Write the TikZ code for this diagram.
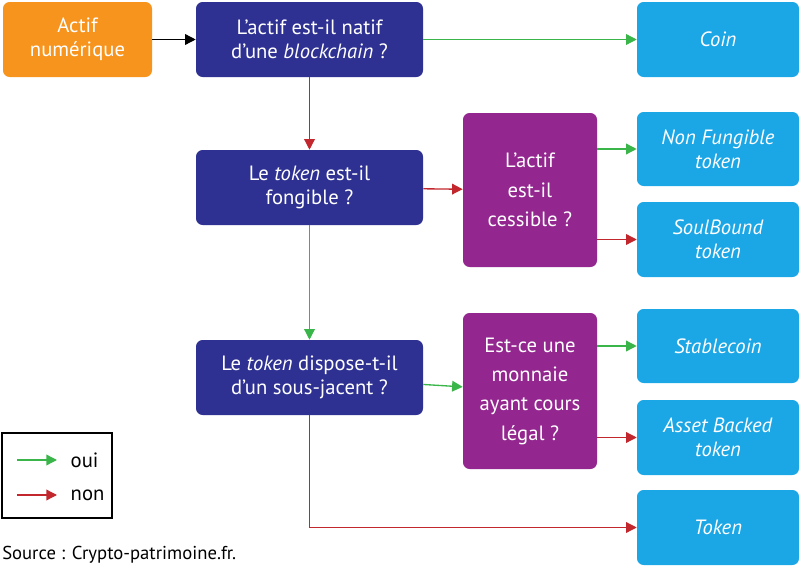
\documentclass[tikz,border=0pt]{standalone}
\usepackage{fontspec}
\setmainfont{PT Sans}
\usetikzlibrary{arrows.meta}
\definecolor{orng}{HTML}{F7941D}
\definecolor{navy}{HTML}{2E3192}
\definecolor{purp}{HTML}{93278F}
\definecolor{cyan1}{HTML}{1BA6E6}
\definecolor{gr}{HTML}{39B54A}
\definecolor{rd}{HTML}{C1272D}
\begin{document}
\begin{tikzpicture}[x=0.75pt,y=-0.75pt,
  box/.style={rounded corners=5pt,text=white,align=center,font=\fontsize{15.5}{18}\selectfont,inner sep=0pt},
  arr/.style={line width=1pt,-{Triangle[length=8pt,width=8pt]}},
  yes/.style={arr,gr},no/.style={arr,rd}]
\useasboundingbox (0,0) rectangle (801,578);
\newcommand{\bx}[6]{\fill[#2,rounded corners=5pt] (#3,#4) rectangle (#5,#6);
  \node[box] (#1) at ({(#3+#5)/2},{(#4+#6)/2}) [minimum width={(#5-#3)*0.75pt},minimum height={(#6-#4)*0.75pt}]{};}
\bx{a}{orng}{3}{2}{152}{77}
\node[box] at (a) {Actif\\numérique};
\bx{q1}{navy}{196}{2}{423}{77}
\node[box] at (q1) {L’actif est-il natif\\d’une \textit{blockchain} ?};
\bx{coin}{cyan1}{637}{2}{799}{77}
\node[box] at (coin) {\textit{Coin}};
\bx{q2}{navy}{196}{150}{423}{225}
\node[box] at (q2) {Le \textit{token} est-il\\fongible ?};
\bx{p1}{purp}{463}{113}{597}{267}
\node[box,font=\fontsize{15.5}{22}\selectfont] at (p1) {L’actif\\est-il\\cessible ?};
\bx{nft}{cyan1}{637}{112}{799}{186}
\node[box] at (nft) {\textit{Non Fungible}\\\textit{token}};
\bx{sb}{cyan1}{637}{202}{799}{277}
\node[box] at (sb) {\textit{SoulBound}\\\textit{token}};
\bx{q3}{navy}{196}{340}{423}{415}
\node[box] at (q3) {Le \textit{token} dispose-t-il\\d’un sous-jacent ?};
\bx{p2}{purp}{463}{313}{597}{469}
\node[box,font=\fontsize{15.5}{22}\selectfont] at (p2) {Est-ce une\\monnaie\\ayant cours\\légal ?};
\bx{st}{cyan1}{637}{309}{799}{383}
\node[box] at (st) {\textit{Stablecoin}};
\bx{ab}{cyan1}{637}{400}{799}{475}
\node[box] at (ab) {\textit{Asset Backed}\\\textit{token}};
\bx{tk}{cyan1}{637}{490}{799}{565}
\node[box] at (tk) {\textit{Token}};
\draw[arr,black] (a) -- (q1);
\draw[yes] (q1) -- (coin);
\draw[no] (q1) -- (q2);
\draw[no] (q2) -- (p1);
\draw[yes] (q2) -- (q3);
\draw[yes] (q3) -- (p2);
\draw[yes] (p1.east|-nft) -- (nft);
\draw[no] (p1.east|-sb) -- (sb);
\draw[yes] (p2.east|-st) -- (st);
\draw[no] (p2.east|-ab) -- (ab);
\draw[no] (q3.south) |- (tk.west);
\draw[black,line width=0.8pt] (2,433) rectangle (112,518);
\coordinate (l1) at (17,460); \coordinate (l2) at (57,460);
\coordinate (l3) at (17,495); \coordinate (l4) at (57,495);
\draw[yes] (l1) -- (l2); \draw[no] (l3) -- (l4);
\node[anchor=west,font=\fontsize{15.5}{18}\selectfont] (oui) at (66,460) {oui};
\node[anchor=west,font=\fontsize{15.5}{18}\selectfont] (non) at (66,495) {non};
\node[anchor=west,inner sep=0pt,font=\fontsize{14}{16}\selectfont] (src) at (2,555) {Source : Crypto-patrimoine.fr.};
\end{tikzpicture}
\end{document}
